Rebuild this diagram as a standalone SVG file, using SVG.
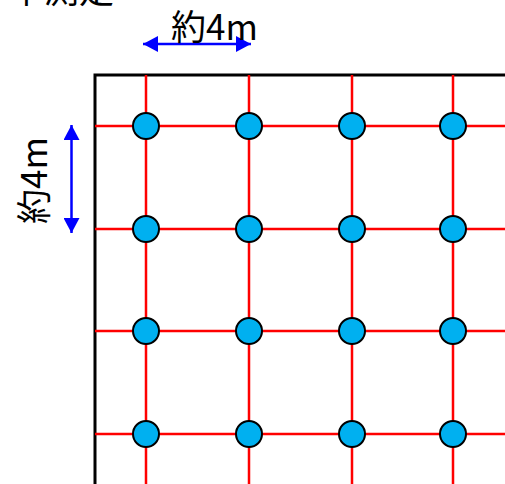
<svg xmlns="http://www.w3.org/2000/svg" width="505" height="484" viewBox="0 0 505 484">
<style>
.t{font-family:"Noto Sans CJK JP","Noto Sans",sans-serif;font-size:35px;fill:#000}
.g{stroke:#ff0000;stroke-width:2.5;fill:none}
.p{fill:#00b0f0;stroke:#000;stroke-width:2}
.a{stroke:#0000ff;stroke-width:2.5;fill:none}
</style>
<defs>
<marker id="ah" viewBox="0 0 15 16" refX="15" refY="8" markerWidth="15" markerHeight="16" markerUnits="userSpaceOnUse" orient="auto-start-reverse">
<path d="M0,0 L15,8 L0,16 Z" fill="#0000ff"/>
</marker>
</defs>
<rect width="505" height="484" fill="#fff"/>
<text class="t" x="9" y="3">平測定</text>
<g id="border">
<path d="M95,484 V75 H505" fill="none" stroke="#000" stroke-width="3"/>
</g>
<g id="connectors">
<path class="g" d="M95,126 H505 M95,229 H505 M95,331 H505 M95,434 H505"/>
<path class="g" d="M146,75 V484 M249,75 V484 M352,75 V484 M453,75 V484"/>
<line class="a" x1="143" y1="44" x2="251" y2="44" marker-start="url(#ah)" marker-end="url(#ah)"/>
<line class="a" x1="71.5" y1="125" x2="71.5" y2="233" marker-start="url(#ah)" marker-end="url(#ah)"/>
</g>
<g id="label-h"><text class="t" x="171" y="40">約4m</text></g>
<g id="label-v"><text class="t" transform="translate(46.5,180.5) rotate(-90)" text-anchor="middle">約4m</text></g>
<g id="n11"><circle class="p" cx="146" cy="126" r="13"/></g>
<g id="n12"><circle class="p" cx="249" cy="126" r="13"/></g>
<g id="n13"><circle class="p" cx="352" cy="126" r="13"/></g>
<g id="n14"><circle class="p" cx="453" cy="126" r="13"/></g>
<g id="n21"><circle class="p" cx="146" cy="229" r="13"/></g>
<g id="n22"><circle class="p" cx="249" cy="229" r="13"/></g>
<g id="n23"><circle class="p" cx="352" cy="229" r="13"/></g>
<g id="n24"><circle class="p" cx="453" cy="229" r="13"/></g>
<g id="n31"><circle class="p" cx="146" cy="331" r="13"/></g>
<g id="n32"><circle class="p" cx="249" cy="331" r="13"/></g>
<g id="n33"><circle class="p" cx="352" cy="331" r="13"/></g>
<g id="n34"><circle class="p" cx="453" cy="331" r="13"/></g>
<g id="n41"><circle class="p" cx="146" cy="434" r="13"/></g>
<g id="n42"><circle class="p" cx="249" cy="434" r="13"/></g>
<g id="n43"><circle class="p" cx="352" cy="434" r="13"/></g>
<g id="n44"><circle class="p" cx="453" cy="434" r="13"/></g>
</svg>
